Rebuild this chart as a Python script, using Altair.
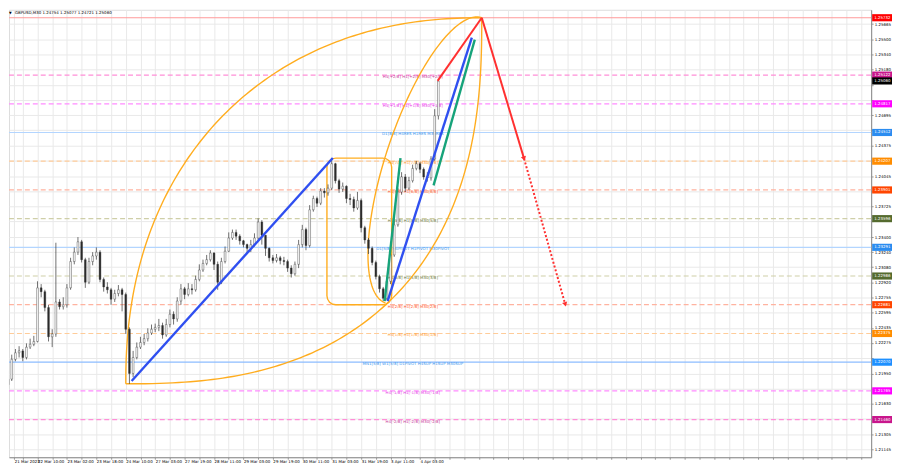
import altair as alt
import numpy as np
import pandas as pd

FONT = "DejaVu Sans"
title_text = "GBPUSD,M30  1.24754 1.25077 1.24721 1.25060"

# ---- H2 candles (4 x M30 bars each), index k ----
first_open = 1.2183
close = [1.2189,1.2210,1.2217,1.2219,1.2212,1.2223,1.2226,1.2229,1.2286,1.2282,
 1.2265,1.2234,1.2237,1.2271,1.2266,1.2268,1.2286,1.2314,1.2324,1.2335,
 1.2316,1.2292,1.2314,1.2320,1.2324,1.2295,1.2287,1.2284,1.2274,1.2280,
 1.2284,1.2279,1.2242,1.2195,1.2212,1.2223,1.2228,1.2232,1.2238,1.2242,
 1.2244,1.2246,1.2236,1.2247,1.2258,1.2253,1.2272,1.2285,1.2279,1.2285,
 1.2284,1.2295,1.2305,1.2312,1.2316,1.2323,1.2311,1.2292,1.2314,1.2325,
 1.2339,1.2345,1.2341,1.2336,1.2332,1.2328,1.2332,1.2339,1.2356,1.2342,
 1.2328,1.2318,1.2315,1.2318,1.2315,1.2314,1.2307,1.2301,1.2311,1.2332,
 1.2348,1.2331,1.2369,1.2381,1.2376,1.2389,1.2387,1.2392,1.2418,1.2400,
 1.2391,1.2394,1.2381,1.2380,1.2371,1.2379,1.2350,1.2337,1.2328,1.2313,
 1.2298,1.2285,1.2275,1.2293,1.2321,1.2353,1.2388,1.2404,1.2392,1.2400,
 1.2413,1.2418,1.2412,1.2404,1.2403,1.2423,1.2469,1.2506]
high = [1.2198,1.2215,1.2221,1.2224,1.2221,1.2227,1.2232,1.2235,1.2293,1.2290,
 1.2284,1.2268,1.2242,1.2334,1.2274,1.2276,1.2290,1.2318,1.2329,1.2340,
 1.2337,1.2318,1.2318,1.2324,1.2329,1.2326,1.2297,1.2292,1.2286,1.2284,
 1.2289,1.2286,1.2281,1.2244,1.2219,1.2228,1.2234,1.2237,1.2243,1.2247,
 1.2248,1.2253,1.2249,1.2253,1.2263,1.2261,1.2276,1.2290,1.2287,1.2291,
 1.2290,1.2299,1.2311,1.2316,1.2321,1.2326,1.2324,1.2314,1.2318,1.2330,
 1.2345,1.2348,1.2348,1.2343,1.2337,1.2333,1.2337,1.2344,1.2360,1.2358,
 1.2342,1.2329,1.2321,1.2322,1.2320,1.2319,1.2316,1.2310,1.2314,1.2337,
 1.2353,1.2350,1.2374,1.2384,1.2383,1.2392,1.2392,1.2396,1.2424,1.2419,
 1.2402,1.2398,1.2395,1.2386,1.2383,1.2388,1.2381,1.2352,1.2339,1.2330,
 1.2315,1.2300,1.2287,1.2297,1.2326,1.2358,1.2392,1.2409,1.2407,1.2404,
 1.2417,1.2421,1.2420,1.2414,1.2409,1.2426,1.2476,1.2508]
low = [1.2181,1.2187,1.2208,1.2212,1.2208,1.2210,1.2221,1.2224,1.2228,1.2276,
 1.2261,1.2229,1.2223,1.2234,1.2263,1.2263,1.2265,1.2284,1.2311,1.2321,
 1.2313,1.2286,1.2290,1.2310,1.2316,1.2292,1.2282,1.2280,1.2268,1.2271,
 1.2277,1.2261,1.2237,1.2184,1.2191,1.2210,1.2221,1.2225,1.2229,1.2236,
 1.2239,1.2240,1.2232,1.2234,1.2244,1.2247,1.2250,1.2268,1.2274,1.2277,
 1.2279,1.2282,1.2293,1.2303,1.2310,1.2314,1.2305,1.2284,1.2290,1.2312,
 1.2324,1.2337,1.2337,1.2332,1.2329,1.2323,1.2324,1.2330,1.2337,1.2332,
 1.2320,1.2314,1.2312,1.2313,1.2311,1.2310,1.2303,1.2297,1.2299,1.2307,
 1.2329,1.2326,1.2329,1.2367,1.2372,1.2374,1.2382,1.2384,1.2390,1.2397,
 1.2387,1.2388,1.2376,1.2374,1.2367,1.2369,1.2345,1.2333,1.2322,1.2310,
 1.2295,1.2281,1.2272,1.2273,1.2290,1.2319,1.2351,1.2385,1.2388,1.2390,
 1.2398,1.2411,1.2408,1.2401,1.2399,1.2400,1.2421,1.2465]

# ---- axes ----
tick_pos = [1.7, 8, 16, 24, 32, 40, 48, 56, 64, 72, 80, 88, 96, 104, 112]
tick_text = ["21 Mar 2023", "22 Mar 10:00", "23 Mar 02:00", "23 Mar 18:00",
             "24 Mar 10:00", "27 Mar 03:00", "27 Mar 19:00", "28 Mar 11:00",
             "29 Mar 03:00", "29 Mar 19:00", "30 Mar 11:00", "31 Mar 03:00",
             "31 Mar 19:00", "3 Apr 11:00", "4 Apr 03:00"]
grid_pos = list(range(4, 233, 4))
price_ticks = [1.25665, 1.25500, 1.25340, 1.25180, 1.25020, 1.24855, 1.24695,
               1.24535, 1.24375, 1.24215, 1.24045, 1.23885, 1.23725, 1.23565,
               1.23400, 1.23240, 1.23080, 1.22920, 1.22755, 1.22595, 1.22435,
               1.22275, 1.22110, 1.21950, 1.21790, 1.21630, 1.21470, 1.21305,
               1.21145]

# ---- Murrey levels ----
levels_price = [1.25732, 1.25122, 1.24817, 1.24512, 1.24207, 1.23901, 1.23596,
                1.23291, 1.22986, 1.22681, 1.22375, 1.22070, 1.21765, 1.21460]
levels_name = ["", "H4[+2/8] H1[+2/8] M30[+2/8]", "H4[+1/8] H1[+1/8] M30[+1/8]",
               "D1[8/8] H4RES H1RES M30RES", "H4[7/8] H1[7/8] M30[7/8]",
               "H4[6/8] H1[6/8] M30[6/8]", "H4[5/8] H1[5/8] M30[5/8]",
               "D1[5/8] H4PIVOT H1PIVOT M30PIVOT", "H4[3/8] H1[3/8] M30[3/8]",
               "H4[2/8] H1[2/8] M30[2/8]", "H4[1/8] H1[1/8] M30[1/8]",
               "MN1[5/8] W1[5/8] D1PIVOT H4SUP H1SUP M30SUP",
               "H4[-1/8] H1[-1/8] M30[-1/8]", "H4[-2/8] H1[-2/8] M30[-2/8]"]
levels_solid = [True, False, False, True, False, False, False, True, False,
                False, False, True, False, False]
levels_line = ["#ff9a9a", "#ff8fd8", "#ff8cff", "#b3d5ff", "#ffcc99", "#ffb3a0",
               "#cfcfa8", "#b3d5ff", "#cfcfa8", "#ffb3a0", "#ffcc99", "#8cbcff",
               "#ff8cff", "#ff8fd8"]
levels_tcol = ["#ff0000", "#c83c9c", "#e640e6", "#3d96ec", "#ff9a2e", "#ff5a2e",
               "#6e7a3c", "#3d96ec", "#6e7a3c", "#ff5a2e", "#ff9a2e", "#3d96ec",
               "#e640e6", "#c83c9c"]
levels_box = ["#ff0000", "#c8168c", "#ff00ff", "#2b8cf0", "#ff8c00", "#ff4500",
              "#556b2f", "#2b8cf0", "#556b2f", "#ff4500", "#ff8c00", "#1e90ff",
              "#ff00ff", "#c8168c"]
current_price = 1.25060

# ---- drawing objects, anchors as (k, price) ----
blue_lines = [[(33.6, 1.2187), (88.3, 1.2424)], [(103.2, 1.2272), (126.1, 1.2552)]]
green_lines = [[(102.4, 1.2272), (106.7, 1.2424)], [(115.7, 1.2395), (126.9, 1.2550)]]
red_solid = [[(116.8, 1.2506), (128.8, 1.25732)], [(128.8, 1.25732), (140.3, 1.24234)]]
red_dotted = [[(140.3, 1.24234), (151.5, 1.22684)]]
arrow_tips = [(140.3, 1.24234), (151.5, 1.22684)]
arc_start = (32.0, 1.2184)
arc_end = (128.8, 1.25732)
box_range = (86.7, 104.3, 1.2268, 1.2424)
narrow_ell = ((102.6, 1.2270), (128.8, 1.25732))

# ---------- layout constants ----------
PXK = 3.75            # px per candle
PXP = 1 / 0.00010548  # px per price unit
X0, X1 = 1.6, 233.33
Y0, Y1 = 1.210592, 1.258164
BOX_HALF = 0.00038

box_prices = levels_price + [current_price]
hidden = [v for v in price_ticks if min(abs(v - b) for b in box_prices) <= 0.00041]

lab_expr = " : ".join(
    f"datum.value == {v} ? '{t}'" for v, t in zip(tick_pos, tick_text)) + " : ''"
ylab_expr = " || ".join(f"datum.value == {v}" for v in hidden) + " ? '' : datum.label"
xaxis = alt.Axis(values=tick_pos[:1] + grid_pos, labelExpr=lab_expr, title=None,
                 grid=True, gridColor="#e9e9e9", gridWidth=1, tickSize=2,
                 tickColor="#999", domainColor="#888", labelFont=FONT,
                 labelFontSize=4, labelColor="#000", labelAlign="left",
                 labelPadding=0, labelOverlap=False, labelFlush=False)
yaxis = alt.Axis(orient="right", values=price_ticks, format=".5f", title=None,
                 labelExpr=ylab_expr,
                 grid=True, gridColor="#e9e9e9", gridWidth=1, tickSize=2,
                 tickColor="#999", domainColor="#888", labelFont=FONT,
                 labelFontSize=4, labelColor="#000", labelPadding=1,
                 labelOverlap=False, labelFlush=False)
XS = alt.Scale(domain=[X0, X1], nice=False, zero=False)
YS = alt.Scale(domain=[Y0, Y1], nice=False, zero=False)


def X(f):
    return alt.X(f, type="quantitative", scale=XS, axis=xaxis)


def Y(f):
    return alt.Y(f, type="quantitative", scale=YS, axis=yaxis)


# candles
opens = [first_open] + close[:-1]
cdf = pd.DataFrame({"k": np.arange(len(close)), "o": opens, "h": high,
                    "l": low, "c": close})
cdf["fc"] = np.where(cdf["c"] >= cdf["o"], "#ffffff", "#2a2a2a")
wick = alt.Chart(cdf).mark_rule(color="#333333", strokeWidth=0.7, clip=True).encode(
    x=X("k"), y=Y("l"), y2="h")
body = alt.Chart(cdf).mark_bar(width=1.8, clip=True, stroke="#333333",
                               strokeWidth=0.4).encode(
    x=X("k"), y=Y("o"), y2="c", fill=alt.Fill("fc:N", scale=None))

# levels
ldf = pd.DataFrame({"p": levels_price, "name": levels_name, "solid": levels_solid,
                    "lc": levels_line, "tc": levels_tcol})
rules_solid = alt.Chart(ldf[ldf.solid]).mark_rule(strokeWidth=1.2).encode(
    y=Y("p"), color=alt.Color("lc:N", scale=None))
rules_dash = alt.Chart(ldf[~ldf.solid]).mark_rule(strokeWidth=1.2,
                                                  strokeDash=[5, 3]).encode(
    y=Y("p"), color=alt.Color("lc:N", scale=None))
ltext = alt.Chart(ldf[ldf.name != ""]).mark_text(
    font=FONT, fontSize=4, align="center", baseline="middle", dy=2).encode(
    x=alt.value(407), y=Y("p"), text="name:N", color=alt.Color("tc:N", scale=None))

# price boxes
bdf = pd.DataFrame({"p": box_prices, "bc": levels_box + ["#000000"]})
bdf["lab"] = bdf["p"].map(lambda v: f"{v:.5f}")
boxes = alt.Chart(bdf).transform_calculate(
    p1=f"datum.p - {BOX_HALF}", p2=f"datum.p + {BOX_HALF}").mark_rect().encode(
    x=alt.value(870), x2=alt.value(890), y=Y("p1"), y2=alt.Y2("p2"),
    color=alt.Color("bc:N", scale=None))
btext = alt.Chart(bdf).mark_text(font=FONT, fontSize=4, align="left",
                                 baseline="middle", color="#ffffff").encode(
    x=alt.value(872), y=Y("p"), text="lab:N")


def seg_df(segs):
    rows = []
    for i, s in enumerate(segs):
        for j, (k, p) in enumerate(s):
            rows.append({"seg": i, "i": j, "k": k, "p": p})
    return pd.DataFrame(rows)


def line_layer(df, color, width, dash=None):
    kw = dict(color=color, strokeWidth=width, clip=True)
    if dash:
        kw["strokeDash"] = dash
    return alt.Chart(df).mark_line(**kw).encode(
        x=X("k"), y=Y("p"), detail="seg:N", order="i:Q")


# orange arcs
kA, pA = arc_start
kB, pB = arc_end
t = np.linspace(0, np.pi / 2, 120)
rk, rp = kB - kA, pB - pA
up_k = kB - rk * np.cos(t) ** (2 / 2.2)
up_p = pA + rp * np.sin(t) ** (2 / 2.2)
lo_k = kA + rk * np.sin(t) ** (2 / 2.5)
lo_p = pB - rp * np.cos(t) ** (2 / 2.5)
(e1k, e1p), (e2k, e2p) = narrow_ell
s1 = np.array([e1k * PXK, e1p * PXP])
s2 = np.array([e2k * PXK, e2p * PXP])
mid = (s1 + s2) / 2
d = (s2 - s1) / 2
a = np.linalg.norm(d)
dh = d / a
nh = np.array([-dh[1], dh[0]])
tt = np.linspace(0, np.pi, 120)
pts = mid[None, :] + np.outer(np.cos(tt), dh * a) + np.outer(np.sin(tt), nh * 48)
arcs = pd.concat([
    pd.DataFrame({"seg": 0, "i": np.arange(len(t)), "k": up_k, "p": up_p}),
    pd.DataFrame({"seg": 1, "i": np.arange(len(t)), "k": lo_k, "p": lo_p}),
    pd.DataFrame({"seg": 2, "i": np.arange(len(tt)), "k": pts[:, 0] / PXK,
                  "p": pts[:, 1] / PXP}),
])
ORANGE = "#ffad1f"
arc_layer = line_layer(arcs, ORANGE, 1.4)
rrect = alt.Chart(pd.DataFrame({"k": [box_range[0]], "k2": [box_range[1]],
                                "p": [box_range[2]], "p2": [box_range[3]]})).mark_rect(
    fillOpacity=0, stroke=ORANGE, strokeWidth=1.4, cornerRadius=9, clip=True).encode(
    x=X("k"), x2="k2", y=Y("p"), y2="p2")

blue = line_layer(seg_df(blue_lines), "#2f4ff0", 2.4)
green = line_layer(seg_df(green_lines), "#16a37a", 2.4)
red = line_layer(seg_df(red_solid), "#ff3030", 2.0)
redd = line_layer(seg_df(red_dotted), "#ff3030", 2.0, dash=[2, 2])
heads = alt.Chart(pd.DataFrame(arrow_tips, columns=["k", "p"])).mark_point(
    shape="triangle-down", filled=True, size=28, angle=343, color="#ff3030",
    opacity=1).encode(x=X("k"), y=Y("p"))

title = alt.Chart(pd.DataFrame({"t": [title_text]})).mark_text(
    font=FONT, fontSize=4, align="left", baseline="top", color="#000").encode(
    x=alt.value(6), y=alt.value(1), text="t:N")
tri = alt.Chart(pd.DataFrame({"t": ["\u25bc"]})).mark_text(
    font=FONT, fontSize=3.5, align="left", baseline="top", color="#000").encode(
    x=alt.value(0), y=alt.value(1.5), text="t:N")

chart = alt.layer(
    rules_solid, rules_dash, ltext, rrect, arc_layer, wick, body,
    blue, green, red, redd, heads, boxes, btext, title, tri
).properties(width=869, height=451, padding=0).configure_view(
    stroke="#888", strokeWidth=1).configure(background="#ffffff")

chart.save("out.html", embed_options={"renderer": "svg", "actions": False})
